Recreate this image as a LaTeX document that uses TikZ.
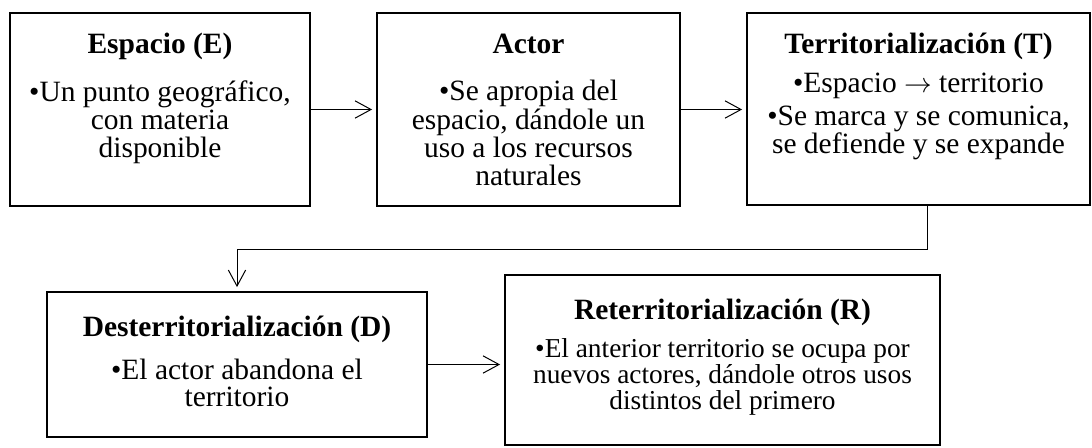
\documentclass[tikz,border=0pt]{standalone}
\usepackage{fontspec}
\setmainfont{Liberation Serif}
\usetikzlibrary{arrows.meta}

\tikzset{
  caja/.style={draw, line width=1.4pt, rectangle, inner sep=0pt},
  titulo/.style={anchor=base, inner sep=0pt, font=\fontsize{22.1}{20.25}\selectfont\bfseries},
  cuerpo/.style={anchor=north, align=center, inner sep=0pt, font=\fontsize{22.1}{21.3}\selectfont},
  flecha/.style={line width=0.75pt, -{Straight Barb[length=12pt,width=13pt]}, shorten >=3pt}
}

\begin{document}
\begin{tikzpicture}[x=0.75pt, y=-0.75pt]
    \useasboundingbox (0,0) rectangle (1092,447);
    % cajas
    \node[caja, minimum width=225pt, minimum height=144.75pt] (esp) at (160,109.5) {};
    \node[caja, minimum width=227.25pt, minimum height=144.75pt] (act) at (528.5,109.5) {};
    \node[caja, minimum width=257.25pt, minimum height=144pt] (ter) at (918.5,109) {};
    \node[caja, minimum width=285pt, minimum height=108.75pt] (des) at (237,364.5) {};
    \node[caja, minimum width=326.25pt, minimum height=127.5pt] (ret) at (722.5,360) {};
    % titulos
    \node[titulo] (espT) at (160,53) {Espacio (E)};
    \node[titulo] (actT) at (528.5,53) {Actor};
    \node[titulo] (terT) at (918.5,53) {Territorialización (T)};
    \node[titulo] (desT) at (237,336) {Desterritorialización (D)};
    \node[titulo] (retT) at (722.5,319) {Reterritorialización (R)};
    % textos
    \node[cuerpo] (espC) at (160,80) {•Un punto geográfico,\\ con materia\\ disponible};
    \node[cuerpo] (actC) at (528.5,80) {•Se apropia del\\ espacio, dándole un\\ uso a los recursos\\ naturales};
    \node[cuerpo] (terC) at (918.5,73) {•Espacio $\rightarrow$ territorio\\[3pt] •Se marca y se comunica,\\ se defiende y se expande};
    \node[cuerpo, font=\fontsize{22.1}{20.25}\selectfont] (desC) at (237,359) {•El actor abandona el\\ territorio};
    \node[cuerpo, font=\fontsize{20.5}{19.5}\selectfont] (retC) at (722.5,338) {•El anterior territorio se ocupa por\\ nuevos actores, dándole otros usos\\ distintos del primero};
    % flechas
    \draw[flecha] (esp.east) -- (act.west);
    \draw[flecha] (act.east) -- (act.east -| ter.west);
    \draw[flecha] ([xshift=6.4pt]ter.south) -- ++(0,44) -| (des.north);
    \draw[flecha] (des.east) -- (des.east -| ret.west);
\end{tikzpicture}
\end{document}
